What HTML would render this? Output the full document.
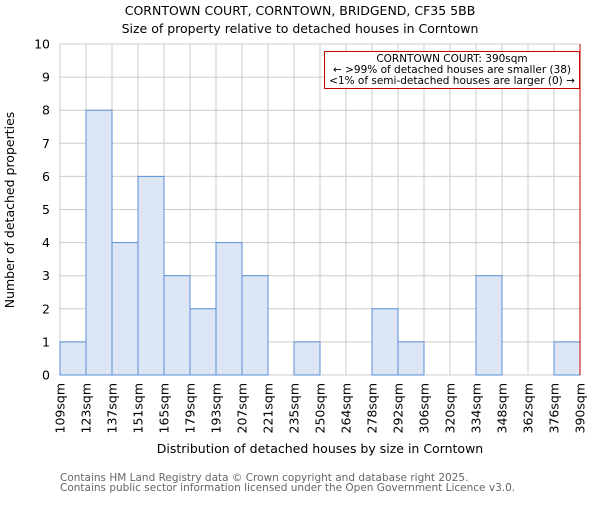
<!DOCTYPE html>
<html><head><meta charset="utf-8"><style>
body{margin:0;background:#fff;}
svg text{font-family:"DejaVu Sans","Liberation Sans",sans-serif;}
</style></head><body>
<svg id="chart" width="600" height="500">
<text x="300" y="15" text-anchor="middle" font-size="12.5">CORNTOWN COURT, CORNTOWN, BRIDGEND, CF35 5BB</text>
<text x="300" y="33" text-anchor="middle" font-size="12.5">Size of property relative to detached houses in Corntown</text>
<g id="grid"></g><g id="bars"></g><g id="axes"></g>
<text transform="translate(14,210) rotate(-90)" text-anchor="middle" font-size="12.5">Number of detached properties</text>
<text x="320" y="453" text-anchor="middle" font-size="12.5">Distribution of detached houses by size in Corntown</text>
<text x="60" y="481" font-size="10.5" fill="#666">Contains HM Land Registry data © Crown copyright and database right 2025.</text>
<text x="60" y="491" font-size="10.5" fill="#666">Contains public sector information licensed under the Open Government Licence v3.0.</text>
</svg>
<script>
const binLabels=["109sqm","123sqm","137sqm","151sqm","165sqm","179sqm","193sqm","207sqm","221sqm","235sqm","250sqm","264sqm","278sqm","292sqm","306sqm","320sqm","334sqm","348sqm","362sqm","376sqm","390sqm"];
const counts=[1,8,4,6,3,2,4,3,0,1,0,0,2,1,0,0,3,0,0,1];
const yTicks=[0,1,2,3,4,5,6,7,8,9,10];
const markerIndex=20;
const NS="http://www.w3.org/2000/svg";
const L=60,R=580,T=44,B=375,yMax=10;
const bw=(R-L)/counts.length;
const xs=i=>L+i*bw;
const ys=v=>B-(B-T)*v/yMax;
function mk(p,tag,a){const e=document.createElementNS(NS,tag);for(const k in a)e.setAttribute(k,a[k]);p.appendChild(e);return e;}
const g=document.getElementById('grid'),b=document.getElementById('bars'),ax=document.getElementById('axes');
yTicks.forEach(t=>{
 const l=mk(g,'line',{x1:L,x2:R,y1:ys(t),y2:ys(t),stroke:'#ccc','stroke-width':1});
 
 
 const tx=mk(ax,'text',{x:L-10,y:ys(t)+4.5,'text-anchor':'end','font-size':12.5});
 tx.textContent=t;
 
 
});
binLabels.forEach((s,i)=>{
 const l=mk(g,'line',{x1:xs(i),x2:xs(i),y1:T,y2:B,stroke:'#ccc','stroke-width':1});
 
 
 const tx=mk(ax,'text',{transform:`translate(${xs(i)+4.5},${B+8}) rotate(-90)`,'text-anchor':'end','font-size':12.5});
 tx.textContent=s;
 
 
});
counts.forEach((c,i)=>{
 if(c<=0)return;
 const r=mk(b,'rect',{x:xs(i),y:ys(c),width:bw,height:ys(0)-ys(c),fill:'#dce6f4',stroke:'#5a8fd8','stroke-width':1});
 
 
});
const ml=mk(ax,'line',{x1:xs(markerIndex),x2:xs(markerIndex),y1:T,y2:B,stroke:'#cc0000','stroke-width':1});


const bx=mk(ax,'rect',{x:324.5,y:51.5,width:255,height:37,fill:'#fff',stroke:'#cc0000','stroke-width':1});


["CORNTOWN COURT: 390sqm","← >99% of detached houses are smaller (38)","<1% of semi-detached houses are larger (0) →"].forEach((s,i)=>{
 const t=mk(ax,'text',{x:452,y:62+i*11,'text-anchor':'middle','font-size':10.5});
 t.textContent=s;
 
 
});
</script>
</body></html>
